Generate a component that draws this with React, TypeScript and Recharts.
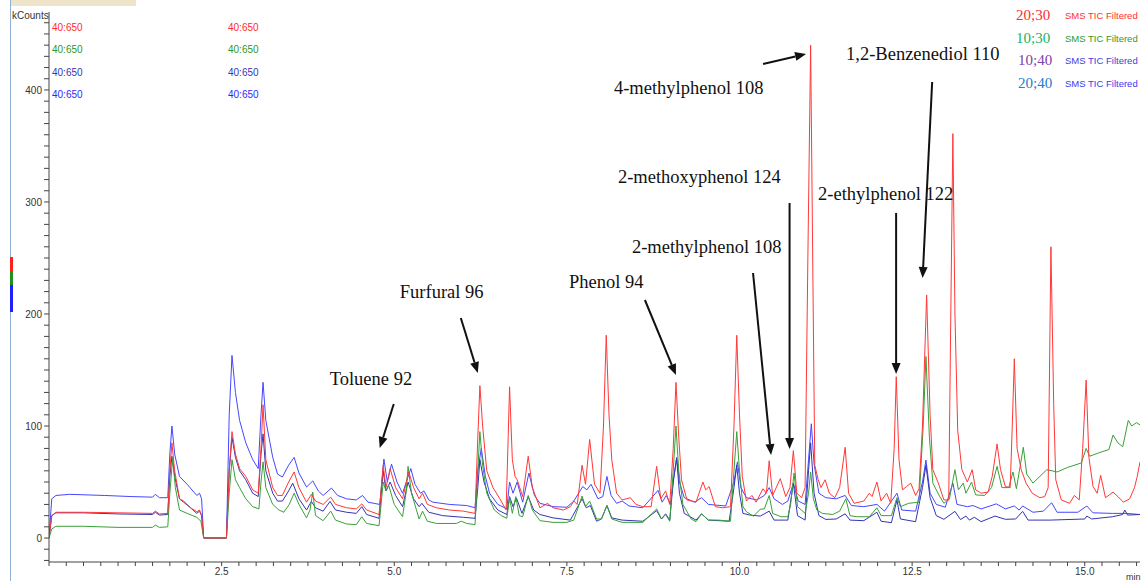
import React from 'react';
import { LineChart, Line, XAxis, YAxis, ReferenceLine, ReferenceDot } from 'recharts';

// retention time (min), kCounts
const red2030: [number, number][] = [
  [0, 0], [0.04, 20], [0.1, 23], [0.5, 23], [1.0, 22.5], [1.5, 22], [1.54, 24], [1.6, 21.5], [1.72, 22],
  [1.75, 60], [1.78, 85], [1.82, 60], [1.89, 35], [1.95, 33], [2.05, 27], [2.14, 23.5], [2.18, 25], [2.21, 20],
  [2.24, 0], [2.57, 0], [2.61, 60], [2.65, 95], [2.7, 75], [2.76, 62], [2.85, 55], [2.95, 43], [3.03, 40],
  [3.07, 80], [3.1, 119], [3.14, 70], [3.24, 45], [3.31, 38], [3.38, 38], [3.47, 50], [3.55, 59], [3.62, 45],
  [3.73, 32], [3.8, 39], [3.86, 33], [3.97, 30], [4.08, 36.5], [4.15, 30], [4.31, 27], [4.45, 26], [4.53, 30.5],
  [4.6, 25], [4.78, 21], [4.84, 65], [4.88, 45], [4.94, 62], [5.02, 45], [5.12, 35], [5.21, 59], [5.28, 45],
  [5.36, 35], [5.41, 40], [5.48, 30], [5.61, 27], [5.8, 25], [6.0, 24], [6.17, 22], [6.21, 90], [6.24, 136],
  [6.28, 100], [6.34, 60], [6.43, 45], [6.53, 35], [6.62, 25], [6.65, 90], [6.67, 135], [6.71, 70], [6.75, 55],
  [6.78, 52], [6.86, 37], [6.94, 73], [7.0, 45], [7.11, 27], [7.22, 31], [7.3, 27], [7.45, 25], [7.55, 28],
  [7.6, 33], [7.65, 30], [7.72, 65], [7.77, 48], [7.83, 88], [7.9, 48], [7.98, 40], [8.03, 100], [8.07, 181],
  [8.11, 110], [8.15, 70], [8.22, 40], [8.3, 34], [8.42, 36], [8.5, 30], [8.6, 28], [8.72, 28], [8.8, 64],
  [8.86, 35], [8.93, 42], [8.99, 30], [9.04, 80], [9.08, 139], [9.12, 90], [9.16, 52], [9.24, 34], [9.37, 32],
  [9.47, 50], [9.51, 43], [9.56, 46], [9.65, 28], [9.75, 27], [9.87, 28], [9.92, 100], [9.96, 181], [10.0, 110],
  [10.04, 55], [10.1, 33], [10.18, 38], [10.24, 32], [10.34, 44], [10.39, 40], [10.43, 69], [10.48, 38],
  [10.59, 53], [10.67, 37], [10.73, 45], [10.78, 78], [10.83, 40], [10.9, 36], [10.95, 45], [10.99, 250],
  [11.03, 440], [11.06, 250], [11.09, 65], [11.14, 52], [11.18, 45], [11.24, 52], [11.3, 40], [11.38, 36],
  [11.45, 45], [11.53, 81], [11.58, 40], [11.66, 31], [11.8, 33], [11.88, 40], [11.92, 37], [11.99, 50],
  [12.05, 33], [12.13, 40], [12.19, 31], [12.24, 80], [12.27, 144], [12.31, 70], [12.36, 43], [12.42, 46],
  [12.48, 49], [12.55, 38], [12.6, 44], [12.65, 100], [12.71, 217], [12.76, 110], [12.8, 61], [12.88, 49],
  [12.96, 34], [13.03, 34], [13.06, 200], [13.09, 361], [13.12, 200], [13.16, 96], [13.22, 61], [13.3, 50],
  [13.37, 61], [13.42, 43], [13.5, 40], [13.6, 41], [13.66, 55], [13.73, 84], [13.78, 61], [13.85, 46],
  [13.92, 45], [13.95, 100], [13.98, 160], [14.02, 80], [14.08, 61], [14.15, 49], [14.24, 40], [14.35, 36],
  [14.42, 37], [14.47, 45], [14.51, 260], [14.55, 120], [14.58, 52], [14.66, 34], [14.78, 31], [14.85, 38],
  [14.92, 34], [14.97, 80], [15.02, 141], [15.06, 72], [15.12, 46], [15.18, 40], [15.23, 56], [15.3, 36],
  [15.41, 41], [15.48, 37], [15.56, 32], [15.65, 35], [15.72, 45], [15.76, 55], [15.8, 68],
];

const green1030: [number, number][] = [
  [0, 0], [0.04, 8], [0.1, 10.5], [0.5, 10.5], [1.0, 9.5], [1.5, 9.5], [1.54, 11.5], [1.6, 9.5], [1.72, 10],
  [1.75, 40], [1.79, 71], [1.83, 45], [1.89, 25], [2.0, 22], [2.14, 18.5], [2.2, 15], [2.24, 0], [2.57, 0],
  [2.61, 40], [2.65, 70], [2.7, 52], [2.76, 45], [2.85, 35], [2.95, 28], [3.04, 26], [3.07, 50], [3.1, 68],
  [3.14, 45], [3.24, 30], [3.33, 25], [3.4, 23], [3.48, 30], [3.55, 40], [3.62, 30], [3.73, 18], [3.78, 25],
  [3.82, 41], [3.86, 20], [3.97, 15.5], [4.08, 24], [4.15, 16], [4.31, 12.5], [4.45, 12], [4.53, 19], [4.6, 13],
  [4.78, 11], [4.84, 50], [4.88, 42], [4.92, 47], [5.0, 30], [5.12, 19], [5.17, 40], [5.2, 64], [5.25, 40],
  [5.36, 17], [5.41, 24], [5.48, 15], [5.61, 13], [5.9, 13], [5.97, 15], [6.05, 13], [6.17, 12], [6.21, 60],
  [6.24, 95], [6.28, 65], [6.34, 40], [6.45, 25], [6.55, 20], [6.63, 17.6], [6.67, 36], [6.71, 22], [6.76, 37],
  [6.81, 20], [6.86, 19], [6.94, 38], [7.0, 25], [7.11, 15.5], [7.3, 14], [7.5, 14], [7.6, 16], [7.72, 37.5],
  [7.77, 28], [7.83, 33], [7.93, 17], [8.0, 17], [8.08, 29], [8.15, 17], [8.3, 14], [8.6, 14], [8.8, 26],
  [8.87, 17], [8.93, 21], [8.99, 15], [9.04, 60], [9.08, 100], [9.12, 60], [9.18, 30], [9.3, 17], [9.37, 14.6],
  [9.45, 21.6], [9.55, 16], [9.7, 16], [9.87, 15], [9.92, 60], [9.96, 95], [10.0, 60], [10.05, 28], [10.1, 23.5],
  [10.2, 19.5], [10.3, 25.6], [10.36, 26], [10.43, 38], [10.48, 22], [10.6, 19], [10.7, 19], [10.74, 30],
  [10.79, 58], [10.84, 28], [10.95, 22], [11.0, 40], [11.03, 59], [11.07, 35], [11.12, 25], [11.2, 22],
  [11.35, 21], [11.45, 24], [11.54, 35], [11.6, 20], [11.7, 19], [11.88, 19], [11.99, 27], [12.05, 20],
  [12.2, 20], [12.28, 36], [12.33, 28], [12.45, 31], [12.6, 32], [12.66, 100], [12.7, 162], [12.75, 90],
  [12.8, 49], [12.9, 37], [12.96, 31], [13.04, 35], [13.12, 61], [13.17, 43], [13.24, 49], [13.28, 40],
  [13.36, 50], [13.42, 38.5], [13.55, 38], [13.65, 45], [13.73, 64], [13.8, 45], [13.9, 45], [13.96, 59],
  [14.01, 44], [14.11, 81], [14.16, 57], [14.25, 49], [14.35, 55], [14.45, 61], [14.6, 59], [14.75, 63],
  [14.95, 67], [15.02, 80], [15.07, 73], [15.2, 76], [15.35, 79], [15.41, 92], [15.48, 85], [15.55, 81.5],
  [15.63, 105], [15.68, 100], [15.75, 103], [15.8, 101],
];

const purple1040: [number, number][] = [
  [0, 0], [0.04, 20], [0.1, 22.5], [0.5, 22.5], [1.0, 21.5], [1.5, 21], [1.54, 23], [1.6, 20.5], [1.72, 21],
  [1.75, 55], [1.78, 73], [1.82, 55], [1.89, 35], [1.95, 32], [2.05, 27], [2.14, 22], [2.18, 24], [2.21, 20],
  [2.24, 0], [2.57, 0], [2.61, 60], [2.65, 90], [2.7, 72], [2.76, 60], [2.85, 52], [2.95, 40], [3.03, 37],
  [3.07, 75], [3.1, 93], [3.14, 60], [3.24, 40], [3.31, 33], [3.38, 33], [3.47, 42], [3.53, 49], [3.62, 35],
  [3.73, 25], [3.8, 32.7], [3.86, 27], [3.97, 24], [4.07, 32.7], [4.15, 25], [4.31, 23], [4.45, 22], [4.53, 28],
  [4.6, 21], [4.78, 17.6], [4.84, 60], [4.88, 42], [4.94, 50], [5.02, 38], [5.12, 28], [5.2, 50], [5.28, 35],
  [5.36, 28], [5.4, 31], [5.5, 23], [5.7, 20], [6.0, 18.5], [6.17, 17.6], [6.21, 45], [6.24, 70], [6.3, 50],
  [6.38, 35], [6.5, 25], [6.63, 21], [6.67, 37], [6.72, 28], [6.77, 35.7], [6.85, 22], [6.94, 37], [7.02, 25],
  [7.11, 21], [7.3, 18], [7.55, 16], [7.72, 35], [7.78, 27], [7.84, 29], [7.93, 15], [8.0, 17], [8.08, 29],
  [8.15, 18], [8.3, 16], [8.6, 15], [8.8, 24.4], [8.87, 17], [8.93, 21.6], [8.99, 16], [9.04, 50], [9.09, 71],
  [9.13, 40], [9.2, 22], [9.37, 16], [9.45, 21.6], [9.55, 16], [9.85, 15], [9.92, 45], [9.96, 65], [10.0, 40],
  [10.05, 22], [10.15, 20.5], [10.3, 19.6], [10.43, 24], [10.5, 16], [10.7, 16], [10.78, 49], [10.84, 20],
  [10.95, 16], [11.0, 60], [11.03, 85], [11.08, 40], [11.15, 20], [11.25, 16.6], [11.4, 17], [11.53, 21.6],
  [11.6, 16], [11.8, 15.5], [11.99, 23], [12.05, 15], [12.2, 13.7], [12.28, 34], [12.33, 17], [12.55, 14.6],
  [12.65, 45], [12.7, 65], [12.76, 36], [12.85, 20], [12.96, 16.7], [13.12, 23.8], [13.2, 16.5], [13.28, 19.6],
  [13.33, 16], [13.4, 18.5], [13.5, 14.6], [13.7, 19.6], [13.85, 16.7], [14.0, 17], [14.1, 23.8], [14.18, 16],
  [14.5, 16], [15.0, 17], [15.03, 19.6], [15.1, 17], [15.4, 19], [15.55, 21], [15.58, 25], [15.62, 20.5],
  [15.8, 21],
];

const blue2040: [number, number][] = [
  [0, 0], [0.04, 35], [0.1, 38], [0.3, 39], [0.8, 38], [1.2, 37], [1.5, 36.5], [1.54, 39], [1.6, 36], [1.72, 36],
  [1.75, 75], [1.78, 100], [1.82, 75], [1.89, 55], [2.0, 48], [2.14, 38], [2.18, 40], [2.21, 35], [2.24, 0],
  [2.57, 0], [2.61, 110], [2.65, 163], [2.7, 130], [2.76, 105], [2.85, 85], [2.95, 70], [3.03, 62], [3.07, 110],
  [3.1, 139], [3.14, 105], [3.24, 72], [3.31, 57], [3.38, 54.5], [3.47, 65], [3.55, 72], [3.62, 58],
  [3.73, 45.5], [3.82, 51], [3.9, 42], [3.97, 38], [4.09, 44.6], [4.18, 38], [4.31, 35], [4.45, 34], [4.54, 38],
  [4.62, 32], [4.79, 30], [4.85, 70.5], [4.9, 50], [4.96, 66], [5.04, 50], [5.12, 40], [5.24, 62], [5.3, 48],
  [5.38, 40], [5.43, 42], [5.5, 34], [5.56, 32], [5.8, 30], [6.05, 29], [6.17, 27], [6.21, 60], [6.26, 80],
  [6.32, 55], [6.38, 40], [6.5, 30], [6.63, 26], [6.67, 50], [6.72, 40], [6.78, 50], [6.86, 32], [6.95, 58],
  [7.03, 38], [7.11, 31], [7.3, 28], [7.5, 27.5], [7.6, 33], [7.73, 46], [7.79, 43], [7.85, 48], [7.95, 35],
  [8.02, 37], [8.08, 55], [8.14, 38], [8.22, 31], [8.3, 33], [8.4, 28.6], [8.6, 27], [8.82, 42.5], [8.88, 32],
  [8.94, 38], [9.0, 30], [9.05, 55], [9.09, 72], [9.13, 50], [9.2, 36], [9.35, 32], [9.45, 36], [9.55, 30],
  [9.8, 28.6], [9.92, 50], [9.97, 68], [10.02, 45], [10.1, 36], [10.25, 34], [10.36, 38], [10.43, 45],
  [10.5, 35], [10.62, 30], [10.7, 33], [10.78, 49], [10.85, 33], [10.95, 30], [11.0, 70], [11.04, 102],
  [11.08, 66], [11.15, 40], [11.25, 36], [11.4, 35], [11.53, 38], [11.62, 29], [11.8, 28], [11.99, 30],
  [12.1, 24], [12.28, 40], [12.35, 25], [12.55, 24], [12.65, 50], [12.7, 69.6], [12.76, 40], [12.85, 30],
  [12.98, 27.5], [13.09, 49], [13.15, 30], [13.3, 28], [13.38, 29], [13.5, 26], [13.72, 30.5], [13.85, 26],
  [13.98, 28.6], [14.05, 25], [14.1, 28.6], [14.25, 23], [14.4, 24], [14.52, 31.5], [14.6, 23], [14.9, 23],
  [15.03, 28.6], [15.12, 22.5], [15.4, 22], [15.6, 22], [15.8, 21],
];

const majorX = [2.5, 5, 7.5, 10, 12.5, 15];
const labelY = [0, 100, 200, 300, 400];
const xTicks = Array.from({ length: 64 }, (_, i) => i * 0.25);
const yTicks = Array.from({ length: 49 }, (_, i) => -20 + i * 10);

const series = [
  { name: '20;40', rows: blue2040, color: '#4646ff' },
  { name: '10;40', rows: purple1040, color: '#3434b4' },
  { name: '10;30', rows: green1030, color: '#38a038' },
  { name: '20;30', rows: red2030, color: '#ff3838' },
];

// annotation: label anchor (t, kCounts) and arrow from -> to
const notes = [
  { text: 'Toluene 92', at: [4.065, 142], from: [4.993, 119.6], to: [4.79, 80.4] },
  { text: 'Furfural 96', at: [5.08, 219.6], from: [5.964, 196.4], to: [6.21, 147.3] },
  { text: 'Phenol 94', at: [7.529, 228.6], from: [8.63, 212.5], to: [9.08, 145.5] },
  { text: '2-methylphenol 108', at: [8.442, 259.8], from: [10.196, 236.6], to: [10.457, 74.1] },
  { text: '2-methoxyphenol 124', at: [8.239, 322.3], from: [10.725, 299.1], to: [10.725, 79.5] },
  { text: '4-methylphenol 108', at: [8.181, 401.8], from: [10.341, 423.2], to: [10.964, 432.1] },
  { text: '1,2-Benzenediol 110', at: [11.543, 432.1], from: [12.79, 407.1], to: [12.652, 232.1] },
  { text: '2-ethylphenol 122', at: [11.138, 307.1], from: [12.268, 290.2], to: [12.268, 146.4] },
];

const rangeLabels = [
  { text: '40:650', color: '#ff2a2a' },
  { text: '40:650', color: '#2c962c' },
  { text: '40:650', color: '#3636b8' },
  { text: '40:650', color: '#2a2aff' },
];

const legendRows = [
  { code: '20;30', codeColor: '#ff2a2a', tag: 'SMS TIC Filtered', tagColor: '#ff3030' },
  { code: '10;30', codeColor: '#22b060', tag: 'SMS TIC Filtered', tagColor: '#2c9a2c' },
  { code: '10;40', codeColor: '#8040a8', tag: 'SMS TIC Filtered', tagColor: '#4040e0' },
  { code: '20;40', codeColor: '#2080d0', tag: 'SMS TIC Filtered', tagColor: '#3a3af0' },
];

const Arrow = (p: any) => {
  const { x1, y1, x2, y2 } = p;
  const dx = x2 - x1;
  const dy = y2 - y1;
  const len = Math.hypot(dx, dy) || 1;
  const ux = dx / len;
  const uy = dy / len;
  const hl = 11;
  const hw = 4.5;
  const bx = x2 - ux * hl;
  const by = y2 - uy * hl;
  return (
    <g>
      <line x1={x1} y1={y1} x2={bx} y2={by} stroke="#111" strokeWidth={2} />
      <polygon
        points={`${x2},${y2} ${bx - uy * hw},${by + ux * hw} ${bx + uy * hw},${by - ux * hw}`}
        fill="#111"
      />
    </g>
  );
};

const small: React.CSSProperties = {
  position: 'absolute',
  fontFamily: 'Liberation Sans, Arial, sans-serif',
  fontSize: 10,
  lineHeight: '12px',
  whiteSpace: 'nowrap',
};

export default function App() {
  return (
    <div style={{ position: 'absolute', left: 0, top: 0, width: 1145, height: 581, background: '#fff', overflow: 'hidden' }}>
      <LineChart width={1145} height={581} margin={{ top: 12, right: 5, bottom: 2, left: 9 }}>
        <XAxis
          type="number"
          dataKey="t"
          domain={[0, 15.8]}
          ticks={xTicks}
          allowDataOverflow
          height={17}
          tickSize={4}
          tickMargin={2}
          interval={0}
          stroke="#444"
          tick={{ fontSize: 10, fill: '#333', fontFamily: 'Liberation Sans, Arial, sans-serif' }}
          tickFormatter={(v: number) => (majorX.some(m => Math.abs(m - v) < 1e-6) ? v.toFixed(1) : '')}
        />
        <YAxis
          type="number"
          dataKey="v"
          domain={[-21.4, 469.6]}
          ticks={yTicks}
          allowDataOverflow
          width={40}
          tickSize={5}
          tickMargin={2}
          interval={0}
          stroke="#444"
          tick={{ fontSize: 10, fill: '#333', fontFamily: 'Liberation Sans, Arial, sans-serif' }}
          tickFormatter={(v: number) => (labelY.includes(Math.round(v)) ? String(Math.round(v)) : '')}
        />
        {series.map(s => (
          <Line
            key={s.name}
            data={s.rows.map(([t, v]) => ({ t, v }))}
            dataKey="v"
            type="linear"
            stroke={s.color}
            strokeWidth={1}
            dot={false}
            activeDot={false}
            isAnimationActive={false}
          />
        ))}
        {notes.map(n => (
          <ReferenceLine
            key={'a' + n.text}
            segment={[{ x: n.from[0], y: n.from[1] }, { x: n.to[0], y: n.to[1] }]}
            ifOverflow="visible"
            shape={Arrow}
          />
        ))}
        {notes.map(n => (
          <ReferenceDot
            key={'t' + n.text}
            x={n.at[0]}
            y={n.at[1]}
            r={1}
            ifOverflow="visible"
            shape={(p: any) => (
              <text
                x={p.cx}
                y={p.cy}
                dominantBaseline="central"
                fontFamily="Liberation Serif, Times New Roman, serif"
                fontSize={18.5}
                fill="#111"
              >
                {n.text}
              </text>
            )}
          />
        ))}
      </LineChart>

      {/* window frame bits */}
      <div style={{ position: 'absolute', left: 10, top: 0, width: 1, height: 581, background: '#8fb0d4' }} />
      <div style={{ position: 'absolute', left: 11, top: 0, width: 125, height: 6, background: '#efe4c9' }} />
      <div style={{ position: 'absolute', left: 10, top: 257, width: 3, height: 14, background: '#ff2020' }} />
      <div style={{ position: 'absolute', left: 10, top: 271, width: 3, height: 14, background: '#209020' }} />
      <div style={{ position: 'absolute', left: 10, top: 285, width: 3, height: 27, background: '#2020ff' }} />

      <div style={{ ...small, left: 12, top: 10, color: '#333' }}>kCounts</div>
      <div style={{ ...small, left: 1126, top: 571, color: '#333', fontSize: 9 }}>min</div>

      {rangeLabels.map((r, i) => (
        <React.Fragment key={i}>
          <div style={{ ...small, left: 52, top: 22 + i * 22.3, color: r.color }}>{r.text}</div>
          <div style={{ ...small, left: 228, top: 22 + i * 22.3, color: r.color }}>{r.text}</div>
        </React.Fragment>
      ))}

      {legendRows.map((r, i) => (
        <React.Fragment key={r.code}>
          <div
            style={{
              position: 'absolute',
              left: 1016 + (i > 1 ? 2 : 0),
              top: 6 + i * 22.5,
              fontFamily: 'Liberation Serif, Times New Roman, serif',
              fontSize: 15,
              lineHeight: '18px',
              color: r.codeColor,
              whiteSpace: 'nowrap',
            }}
          >
            {r.code}
          </div>
          <div style={{ ...small, left: 1065, top: 10 + i * 22.5, fontSize: 9.5, color: r.tagColor }}>{r.tag}</div>
        </React.Fragment>
      ))}
    </div>
  );
}
